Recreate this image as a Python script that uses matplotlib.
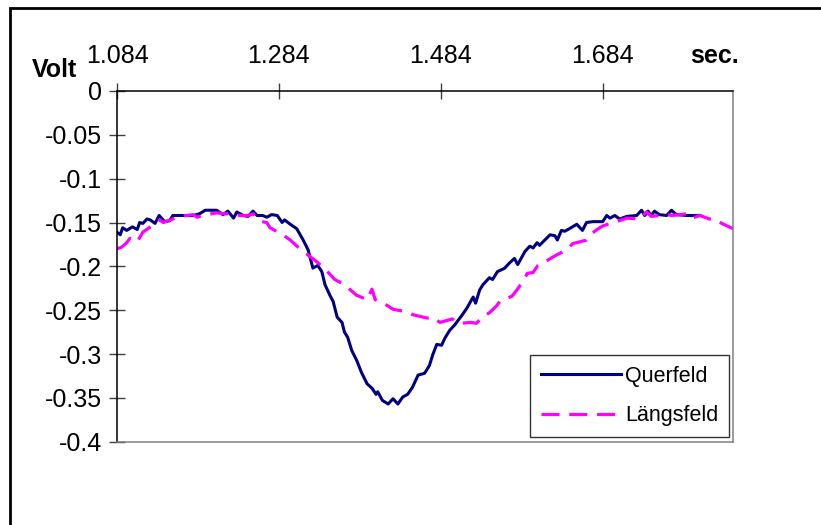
import matplotlib
matplotlib.use("Agg")
import matplotlib.pyplot as plt
from matplotlib.patches import Rectangle

plt.rcParams['font.family'] = ['Liberation Sans', 'DejaVu Sans']
plt.rcParams['lines.scale_dashes'] = False

# Querfeld (solid navy)
t_quer = [1.084, 1.088, 1.091, 1.096, 1.103, 1.109, 1.112, 1.116, 1.121, 1.125,
          1.131, 1.136, 1.143, 1.149, 1.153, 1.162, 1.178, 1.186, 1.193, 1.207,
          1.215, 1.221, 1.228, 1.232, 1.240, 1.246, 1.252, 1.257, 1.264, 1.269,
          1.275, 1.282, 1.288, 1.291, 1.298, 1.306, 1.314, 1.320, 1.326, 1.332,
          1.337, 1.341, 1.347, 1.351, 1.356, 1.362, 1.365, 1.369, 1.374, 1.380,
          1.386, 1.393, 1.399, 1.404, 1.406, 1.412, 1.419, 1.425, 1.431, 1.437,
          1.443, 1.449, 1.456, 1.464, 1.470, 1.474, 1.479, 1.485, 1.489, 1.495,
          1.501, 1.510, 1.516, 1.524, 1.527, 1.532, 1.536, 1.544, 1.548, 1.554,
          1.561, 1.563, 1.569, 1.575, 1.579, 1.588, 1.594, 1.598, 1.603, 1.606,
          1.619, 1.625, 1.628, 1.633, 1.637, 1.643, 1.652, 1.659, 1.664, 1.672,
          1.684, 1.689, 1.693, 1.699, 1.705, 1.714, 1.726, 1.732, 1.736, 1.740,
          1.744, 1.748, 1.754, 1.763, 1.769, 1.775, 1.788, 1.804]
v_quer = [-0.161, -0.164, -0.156, -0.159, -0.155, -0.158, -0.150, -0.151, -0.146, -0.147,
          -0.151, -0.142, -0.149, -0.148, -0.142, -0.142, -0.142, -0.140, -0.136, -0.136,
          -0.141, -0.137, -0.145, -0.138, -0.142, -0.143, -0.137, -0.142, -0.142, -0.144,
          -0.141, -0.142, -0.150, -0.147, -0.152, -0.157, -0.170, -0.181, -0.202, -0.199,
          -0.206, -0.221, -0.233, -0.240, -0.258, -0.264, -0.275, -0.281, -0.296, -0.307,
          -0.321, -0.334, -0.339, -0.346, -0.343, -0.353, -0.357, -0.351, -0.357, -0.349,
          -0.346, -0.338, -0.324, -0.322, -0.313, -0.301, -0.289, -0.290, -0.282, -0.273,
          -0.267, -0.256, -0.248, -0.235, -0.242, -0.227, -0.221, -0.213, -0.215, -0.206,
          -0.203, -0.202, -0.196, -0.191, -0.198, -0.183, -0.177, -0.179, -0.173, -0.176,
          -0.164, -0.165, -0.170, -0.159, -0.160, -0.157, -0.152, -0.159, -0.150, -0.149,
          -0.149, -0.142, -0.145, -0.142, -0.146, -0.143, -0.142, -0.136, -0.142, -0.137,
          -0.142, -0.137, -0.141, -0.142, -0.136, -0.141, -0.142, -0.142]

# Laengsfeld (dashed magenta)
t_laeng = [1.084, 1.090, 1.096, 1.100, 1.109, 1.116, 1.133, 1.137, 1.141, 1.153,
           1.162, 1.178, 1.183, 1.189, 1.207, 1.217, 1.227, 1.236, 1.246, 1.252,
           1.263, 1.269, 1.273, 1.285, 1.289, 1.298, 1.310, 1.320, 1.331, 1.341,
           1.353, 1.365, 1.380, 1.393, 1.399, 1.403, 1.415, 1.425, 1.437, 1.449,
           1.467, 1.474, 1.483, 1.498, 1.507, 1.522, 1.528, 1.535, 1.544, 1.553,
           1.557, 1.572, 1.578, 1.584, 1.591, 1.598, 1.604, 1.616, 1.627, 1.640,
           1.647, 1.656, 1.664, 1.670, 1.677, 1.684, 1.693, 1.701, 1.714, 1.730,
           1.738, 1.744, 1.754, 1.763, 1.770, 1.788, 1.794, 1.804, 1.816, 1.825,
           1.831, 1.845]
v_laeng = [-0.180, -0.178, -0.173, -0.168, -0.172, -0.161, -0.150, -0.147, -0.150, -0.146,
           -0.143, -0.141, -0.144, -0.142, -0.139, -0.140, -0.140, -0.142, -0.142, -0.140,
           -0.149, -0.150, -0.156, -0.162, -0.164, -0.170, -0.180, -0.187, -0.195, -0.203,
           -0.215, -0.221, -0.233, -0.238, -0.226, -0.238, -0.243, -0.249, -0.251, -0.255,
           -0.259, -0.258, -0.264, -0.260, -0.265, -0.264, -0.265, -0.258, -0.253, -0.245,
           -0.240, -0.234, -0.227, -0.219, -0.208, -0.207, -0.199, -0.193, -0.187, -0.181,
           -0.174, -0.172, -0.170, -0.163, -0.158, -0.154, -0.151, -0.149, -0.145, -0.146,
           -0.138, -0.143, -0.142, -0.141, -0.142, -0.140, -0.145, -0.142, -0.146, -0.147,
           -0.151, -0.157]

x_ticks = [1.084, 1.284, 1.484, 1.684]
x_ticklabels = ["1.084", "1.284", "1.484", "1.684"]
y_ticks = [0, -0.05, -0.1, -0.15, -0.2, -0.25, -0.3, -0.35, -0.4]
y_ticklabels = ["0", "-0.05", "-0.1", "-0.15", "-0.2", "-0.25", "-0.3", "-0.35", "-0.4"]

fig = plt.figure(figsize=(8.21, 5.25), dpi=100)
ax = fig.add_axes([117 / 821, 1 - 441.7 / 525, (733 - 117) / 821, (441.7 - 91) / 525])

ax.plot(t_quer, v_quer, color="#000080", lw=2.2, label="Querfeld")
ax.plot(t_laeng, v_laeng, color="#FF00FF", lw=2.3, dashes=(13, 7), label="Längsfeld")

ax.set_xlim(1.084, 1.845)
ax.set_ylim(-0.4, 0)

ax.xaxis.tick_top()
ax.set_xticks(x_ticks)
ax.set_xticklabels(x_ticklabels)
ax.set_yticks(y_ticks)
ax.set_yticklabels(y_ticklabels)
ax.tick_params(axis='x', direction='inout', length=11, width=1, color='#404040',
               labelsize=18, pad=11)
ax.tick_params(axis='y', direction='inout', length=12, width=1, color='#404040',
               labelsize=18, pad=5)

for s in ['top', 'left']:
    ax.spines[s].set_color('black')
    ax.spines[s].set_linewidth(1.1)
for s in ['bottom', 'right']:
    ax.spines[s].set_color('#808080')
    ax.spines[s].set_linewidth(1.1)

fig.text(32 / 821, 1 - 77 / 525, "Volt", fontsize=18, fontweight='bold', ha='left', va='baseline')
fig.text(690 / 821, 1 - 63 / 525, "sec.", fontsize=18, fontweight='bold', ha='left', va='baseline')

leg = ax.legend(loc='lower right', bbox_to_anchor=(729 / 821, 1 - 437 / 525),
                bbox_transform=fig.transFigure, fontsize=15.5, frameon=True, fancybox=False,
                handlelength=3.7, handletextpad=0.2, labelspacing=0.85,
                borderpad=0.5, borderaxespad=0)
leg.get_frame().set_edgecolor('black')
leg.get_frame().set_linewidth(1.0)

fig.add_artist(Rectangle((9.5 / 821, -0.1), 1.0, 1.1 - 8.5 / 525,
                         transform=fig.transFigure, fill=False, edgecolor='black',
                         linewidth=2.0))

fig.savefig("out.png", dpi=100)
